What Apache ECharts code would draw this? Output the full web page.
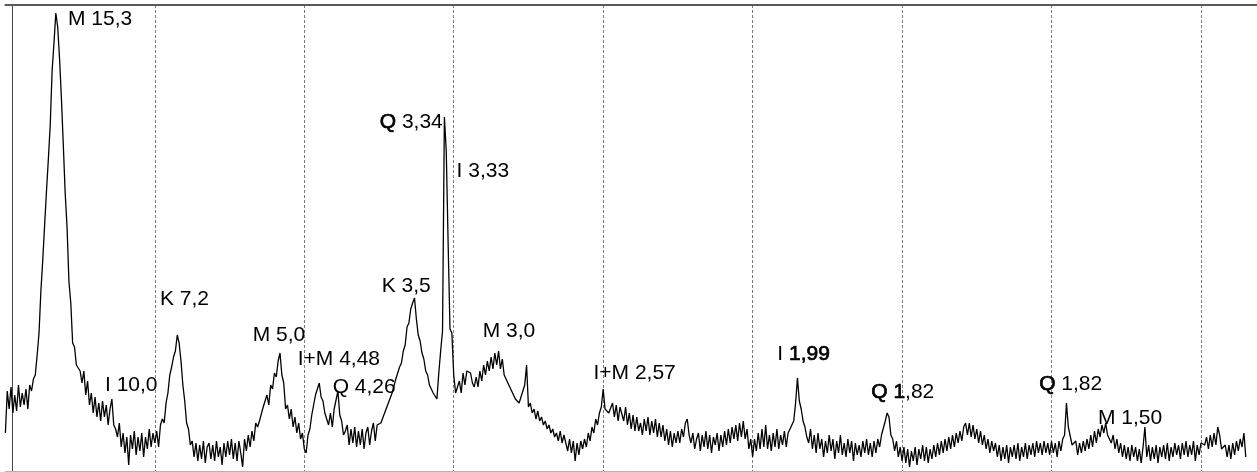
<!DOCTYPE html>
<html><head><meta charset="utf-8">
<script src="https://cdn.jsdelivr.net/npm/echarts@6/dist/echarts.min.js"></script>
<style>html,body{margin:0;padding:0;background:#fff}#c{width:1257px;height:472px}</style>
</head><body><div id="c"></div>
<script>
// 2-theta sampling grid (degrees)
const twoThetaStart = 3.0;
const twoThetaStep = 0.1;
// intensity, one row per degree (3.0 ... 69.4)
const intensity = [
  38, 80, 62, 84, 58, 76, 60, 86, 64, 78,
  66, 82, 62, 86, 80, 92, 96, 116, 138, 180,
  211, 246, 280, 312, 346, 400, 428, 458, 444, 412,
  372, 326, 278, 244, 190, 168, 128, 124, 106, 108,
  100, 88, 100, 76, 90, 66, 78, 58, 74, 54,
  68, 50, 70, 54, 66, 46, 62, 72, 46, 42,
  34, 48, 24, 38, 18, 34, 6, 36, 22, 40,
  16, 34, 20, 38, 14, 34, 22, 42, 24, 38,
  28, 40, 24, 46, 52, 48, 68, 78, 96, 104,
  114, 120, 136, 128, 110, 86, 70, 48, 42, 26,
  30, 14, 28, 10, 26, 12, 30, 8, 24, 28,
  12, 26, 10, 30, 14, 24, 6, 28, 14, 30,
  16, 32, 12, 28, 10, 30, 18, 4, 32, 20,
  36, 24, 40, 30, 48, 44, 50, 52, 64, 62,
  76, 66, 86, 82, 98, 94, 110, 118, 96, 88,
  62, 66, 52, 62, 44, 54, 38, 48, 32, 38,
  22, 18, 36, 42, 56, 66, 76, 78, 88, 74,
  70, 58, 60, 46, 58, 44, 62, 60, 80, 56,
  50, 36, 40, 46, 26, 42, 28, 44, 24, 40,
  26, 42, 22, 38, 44, 26, 40, 48, 30, 46,
  44, 48, 50, 58, 60, 68, 68, 78, 80, 92,
  92, 104, 108, 120, 126, 144, 148, 162, 168, 173,
  152, 136, 130, 118, 112, 100, 96, 86, 88, 78,
  80, 72, 98, 120, 140, 354, 320, 228, 142, 138,
  96, 78, 76, 90, 78, 98, 86, 100, 102, 98,
  88, 84, 94, 84, 100, 90, 106, 96, 110, 100,
  114, 102, 118, 106, 120, 102, 112, 96, 92, 88,
  84, 80, 76, 72, 70, 68, 74, 76, 86, 106,
  64, 68, 58, 62, 52, 60, 50, 54, 46, 50,
  42, 46, 38, 42, 34, 38, 30, 40, 28, 36,
  34, 20, 32, 18, 30, 10, 28, 16, 30, 22,
  32, 24, 38, 30, 44, 38, 52, 46, 58, 64,
  82, 62, 60, 58, 56, 68, 54, 66, 50, 64,
  62, 50, 64, 46, 58, 42, 56, 40, 54, 40,
  48, 36, 52, 40, 54, 36, 50, 38, 52, 34,
  48, 34, 46, 30, 42, 26, 40, 24, 38, 28,
  40, 28, 42, 34, 48, 52, 36, 28, 38, 22,
  32, 38, 20, 36, 24, 40, 22, 36, 18, 34,
  26, 38, 20, 36, 24, 40, 26, 42, 28, 44,
  32, 46, 30, 48, 34, 50, 32, 42, 22, 32,
  14, 32, 20, 38, 22, 42, 24, 46, 22, 36,
  20, 38, 24, 42, 22, 36, 26, 40, 24, 38,
  36, 46, 50, 68, 93, 70, 62, 50, 44, 34,
  28, 42, 22, 36, 18, 38, 22, 32, 14, 30,
  18, 36, 20, 32, 12, 30, 18, 36, 16, 28,
  14, 32, 18, 30, 10, 28, 16, 26, 14, 30,
  18, 32, 16, 28, 14, 30, 18, 32, 24, 36,
  38, 50, 58, 54, 36, 32, 20, 30, 14, 24,
  10, 24, 8, 22, 4, 20, 10, 24, 6, 22,
  12, 26, 10, 24, 8, 22, 12, 26, 14, 28,
  16, 30, 18, 32, 20, 34, 22, 36, 24, 38,
  28, 40, 30, 44, 48, 36, 48, 34, 46, 32,
  42, 28, 40, 26, 36, 22, 32, 18, 30, 20,
  28, 14, 26, 10, 24, 12, 26, 8, 24, 14,
  26, 12, 28, 10, 24, 14, 28, 12, 26, 16,
  28, 14, 30, 18, 28, 16, 30, 18, 28, 16,
  30, 18, 28, 14, 30, 20, 32, 36, 68, 44,
  42, 26, 24, 30, 16, 28, 18, 30, 20, 32,
  22, 36, 24, 40, 28, 42, 34, 46, 38, 48,
  36, 38, 28, 36, 22, 32, 18, 28, 14, 26,
  12, 24, 10, 26, 14, 24, 10, 22, 8, 24,
  44, 14, 26, 10, 24, 12, 26, 8, 24, 14,
  26, 12, 28, 10, 24, 14, 28, 16, 26, 12,
  28, 16, 30, 14, 26, 16, 30, 10, 26, 16,
  28, 26, 26, 34, 22, 36, 24, 38, 26, 44,
  36, 22, 24, 26, 14, 26, 12, 28, 16, 30,
  20, 32, 24, 38, 14
];
// peak annotations: text ({b|...} = heavier glyphs), 2-theta of label's left edge, intensity of label's middle
const peakLabels = [
  {text: 'M 15,3',        x: 6.35,  y: 452},
  {text: 'I 10,0',        x: 8.33,  y: 86},
  {text: 'K 7,2',         x: 11.27, y: 172},
  {text: 'M 5,0',         x: 16.24, y: 136},
  {text: 'I+M 4,48',      x: 18.65, y: 112},
  {text: 'Q 4,26',        x: 20.52, y: 84},
  {text: 'K 3,5',         x: 23.14, y: 185},
  {text: '{b|Q} 3,34',    x: 23.04, y: 349},
  {text: 'I 3,33',        x: 27.15, y: 300},
  {text: 'M 3,0',         x: 28.55, y: 140},
  {text: 'I+M 2,57',      x: 34.48, y: 98},
  {text: 'I {b|1,99}',    x: 44.32, y: 117},
  {text: '{b|Q 1},82',    x: 49.35, y: 79},
  {text: '{b|Q} 1,82',    x: 58.34, y: 87},
  {text: 'M 1,50',        x: 61.49, y: 53}
];
const axisMin = 3, axisMax = 70, gridInterval = 8;

const points = intensity.map((v, i) => [+(twoThetaStart + i * twoThetaStep).toFixed(2), v]);
const chart = echarts.init(document.getElementById('c'), null, {renderer: 'canvas'});
const FONT = '"Liberation Sans", Arial, Helvetica, sans-serif';
chart.setOption({
  animation: false,
  backgroundColor: '#fff',
  grid: {left: 5.4, right: 0, top: 5, bottom: 1, containLabel: false},
  xAxis: [
    {type: 'value', min: axisMin, max: axisMax, interval: gridInterval,
     axisLine: {show: true, lineStyle: {color: '#b4b4b4', width: 1}},
     axisTick: {show: false}, axisLabel: {show: false},
     splitLine: {show: true, showMinLine: false, showMaxLine: false,
                 lineStyle: {type: [3, 2], color: '#7c7c7c', width: 1}}},
    {type: 'value', position: 'top', min: axisMin, max: axisMax,
     axisLine: {show: true, lineStyle: {color: '#5a5a5a', width: 2}},
     axisTick: {show: false}, axisLabel: {show: false}, splitLine: {show: false}}
  ],
  yAxis: {type: 'value', min: 0, max: 466, offset: -6.6,
    axisLine: {show: true, lineStyle: {color: '#444', width: 1}},
    axisTick: {show: false}, axisLabel: {show: false}, splitLine: {show: false}},
  series: [{
    type: 'line', data: points, showSymbol: false, smooth: false,
    lineStyle: {color: '#000', width: 1.3}, silent: true,
    markPoint: {
      symbol: 'circle', symbolSize: 0, silent: true, animation: false,
      itemStyle: {color: 'transparent'},
      label: {show: true, position: 'right', distance: 0, color: '#000',
              fontSize: 21, fontFamily: FONT, formatter: p => p.name,
              rich: {b: {fontSize: 21, fontFamily: FONT, color: '#000',
                         textBorderColor: '#000', textBorderWidth: 0.7}}},
      data: peakLabels.map(l => ({name: l.text, coord: [l.x, l.y]}))
    }
  }]
});
</script>
</body></html>
